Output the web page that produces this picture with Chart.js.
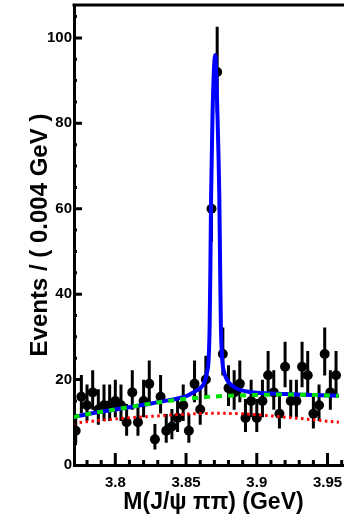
<!DOCTYPE html>
<html>
<head>
<meta charset="utf-8">
<script src="https://cdn.jsdelivr.net/npm/chart.js@4.4.1/dist/chart.umd.min.js"></script>
<style>
  html, body { margin: 0; padding: 0; background: #fff; overflow: hidden; }
  #wrap { width: 344px; height: 520px; overflow: hidden; }
</style>
</head>
<body>
<div id="wrap"><canvas id="chart-mass" width="358" height="520"></canvas></div>
<script>
// bin centres (GeV), 4 MeV bins
var massBins = [3.772, 3.776, 3.780, 3.784, 3.788, 3.792, 3.796, 3.800, 3.804, 3.808,
  3.812, 3.816, 3.820, 3.824, 3.828, 3.832, 3.836, 3.840, 3.844, 3.848,
  3.852, 3.856, 3.860, 3.864, 3.868, 3.872, 3.876, 3.880, 3.884, 3.888,
  3.892, 3.896, 3.900, 3.904, 3.908, 3.912, 3.916, 3.920, 3.924, 3.928,
  3.932, 3.936, 3.940, 3.944, 3.948, 3.952, 3.956];
var events = [8, 16, 14, 17, 13, 14, 14, 15, 14, 10,
  17, 10, 15, 19, 6, 16, 8, 9, 11, 14,
  8, 19, 13, 20, 60, 92, 26, 18, 17, 19,
  11, 15, 11, 15, 21, 17, 12, 23, 15, 15,
  23, 21, 12, 14, 26, 17, 21];

// total fit (blue)
var fitMass = [3.7705, 3.780, 3.800, 3.820, 3.840, 3.850, 3.855, 3.860, 3.863, 3.8647,
  3.8660, 3.8667, 3.8672, 3.8677, 3.8687, 3.8706, 3.8722, 3.8735, 3.8741, 3.8746,
  3.8755, 3.8771, 3.8792, 3.8852, 3.8931, 3.900, 3.920, 3.940, 3.958];
var fitTotal = [11.2, 11.9, 13.0, 14.1, 15.3, 16.1, 17.0, 18.0, 19.3, 21.5,
  25, 33, 46, 63, 82, 96, 82, 63, 46, 33,
  25, 21.5, 19.8, 18.0, 17.2, 16.9, 16.6, 16.4, 16.2];

// total background (green dashed)
var bkgMass = [3.7705, 3.780, 3.800, 3.820, 3.840, 3.860, 3.880, 3.900, 3.920, 3.940, 3.958];
var bkgTotal = [11.2, 11.9, 13.0, 14.1, 15.1, 15.8, 16.2, 16.4, 16.5, 16.4, 16.2];

// other background (red dotted)
var bkg2Mass = [3.7705, 3.800, 3.830, 3.850, 3.870, 3.890, 3.910, 3.930, 3.958];
var bkg2 = [9.8, 10.8, 11.5, 11.9, 12.1, 12.0, 11.5, 10.9, 10.0];

var xTicks = [3.8, 3.85, 3.9, 3.95];
var yTicks = [0, 20, 40, 60, 80, 100];

var FONT = "'Liberation Sans', Arial, sans-serif";

function pts(xs, ys) {
  return xs.map(function (x, i) { return { x: x, y: ys[i] }; });
}

// poisson-like asymmetric error bars
var errorBars = {
  id: "errorBars",
  beforeDatasetsDraw: function (chart) {
    var c = chart.ctx, sx = chart.scales.x, sy = chart.scales.y;
    c.save();
    c.strokeStyle = "#000";
    c.lineWidth = 3;
    c.beginPath();
    massBins.forEach(function (m, i) {
      var n = events[i];
      var up = Math.sqrt(n + 0.75) + 1;
      var dn = Math.sqrt(n - 0.25);
      var px = sx.getPixelForValue(m);
      c.moveTo(px, sy.getPixelForValue(n - dn));
      c.lineTo(px, sy.getPixelForValue(n + up));
    });
    c.stroke();
    c.restore();
  }
};

// frame top + inward tick marks
var frameTicks = {
  id: "frameTicks",
  afterDraw: function (chart) {
    var c = chart.ctx, sx = chart.scales.x, sy = chart.scales.y, a = chart.chartArea;
    c.save();
    c.strokeStyle = "#000";
    c.lineWidth = 3;
    c.beginPath();
    c.moveTo(a.left - 1.5, a.top);
    c.lineTo(a.right, a.top);
    for (var i = 378; i <= 396; i++) {
      var px = sx.getPixelForValue(i / 100);
      var len = i % 5 === 0 ? 12 : 5;
      c.moveTo(px, a.bottom);
      c.lineTo(px, a.bottom - len);
    }
    for (var v = 5; v <= 105; v += 5) {
      var py = sy.getPixelForValue(v);
      var l = v % 20 === 0 ? 8 : 3;
      c.moveTo(a.left, py);
      c.lineTo(a.left + l, py);
    }
    c.stroke();
    c.restore();
  }
};

var ctx = document.getElementById("chart-mass").getContext("2d");

new Chart(ctx, {
  type: "scatter",
  data: {
    datasets: [
      {
        label: "Background",
        data: pts(bkgMass, bkgTotal),
        showLine: true,
        pointRadius: 0,
        borderColor: "#00e000",
        borderWidth: 4,
        borderDash: [6, 6],
        cubicInterpolationMode: "monotone",
        order: 0
      },
      {
        label: "Fit",
        data: pts(fitMass, fitTotal),
        showLine: true,
        pointRadius: 0,
        borderColor: "#0000ff",
        borderWidth: 4,
        cubicInterpolationMode: "monotone",
        order: 1
      },
      {
        label: "Background 2",
        data: pts(bkg2Mass, bkg2),
        showLine: true,
        pointRadius: 0,
        borderColor: "#ff0000",
        borderWidth: 3,
        borderDash: [2.5, 3.5],
        cubicInterpolationMode: "monotone",
        order: 2
      },
      {
        label: "Data",
        data: pts(massBins, events),
        pointRadius: 5,
        pointBackgroundColor: "#000",
        pointBorderWidth: 0,
        order: 3
      }
    ]
  },
  options: {
    responsive: false,
    animation: false,
    layout: { padding: { top: 5, left: 0, right: 0, bottom: 0 } },
    plugins: {
      legend: { display: false },
      tooltip: { enabled: false }
    },
    scales: {
      x: {
        type: "linear",
        min: 3.7708,
        max: 3.968,
        afterFit: function (s) {
          s.height = 55;
          s.paddingLeft = 0;
          s.paddingRight = 0;
        },
        border: { color: "#000", width: 3 },
        grid: { display: false, drawTicks: false },
        afterBuildTicks: function (s) {
          s.ticks = xTicks.map(function (v) { return { value: v }; });
        },
        ticks: {
          color: "#000",
          padding: 9,
          maxRotation: 0,
          font: { family: FONT, size: 15, weight: "bold" },
          callback: function (v) { return parseFloat(v.toFixed(2)).toString(); }
        },
        title: {
          display: true,
          text: "M(J/\u03c8 \u03c0\u03c0) (GeV)",
          color: "#000",
          font: { family: FONT, size: 23, weight: "bold" },
          padding: { top: 0, bottom: 4 }
        }
      },
      y: {
        min: 0,
        max: 107.7,
        afterFit: function (s) {
          s.width = 74;
          s.paddingTop = 0;
          s.paddingBottom = 0;
        },
        border: { color: "#000", width: 3 },
        grid: { display: false, drawTicks: false },
        afterBuildTicks: function (s) {
          s.ticks = yTicks.map(function (v) { return { value: v }; });
        },
        ticks: {
          color: "#000",
          padding: 2,
          font: { family: FONT, size: 15, weight: "bold" }
        },
        title: {
          display: true,
          text: "Events / ( 0.004 GeV )",
          color: "#000",
          font: { family: FONT, size: 24, weight: "bold" },
          padding: { top: 26, bottom: 0 }
        }
      }
    }
  },
  plugins: [errorBars, frameTicks]
});
</script>
</body>
</html>
